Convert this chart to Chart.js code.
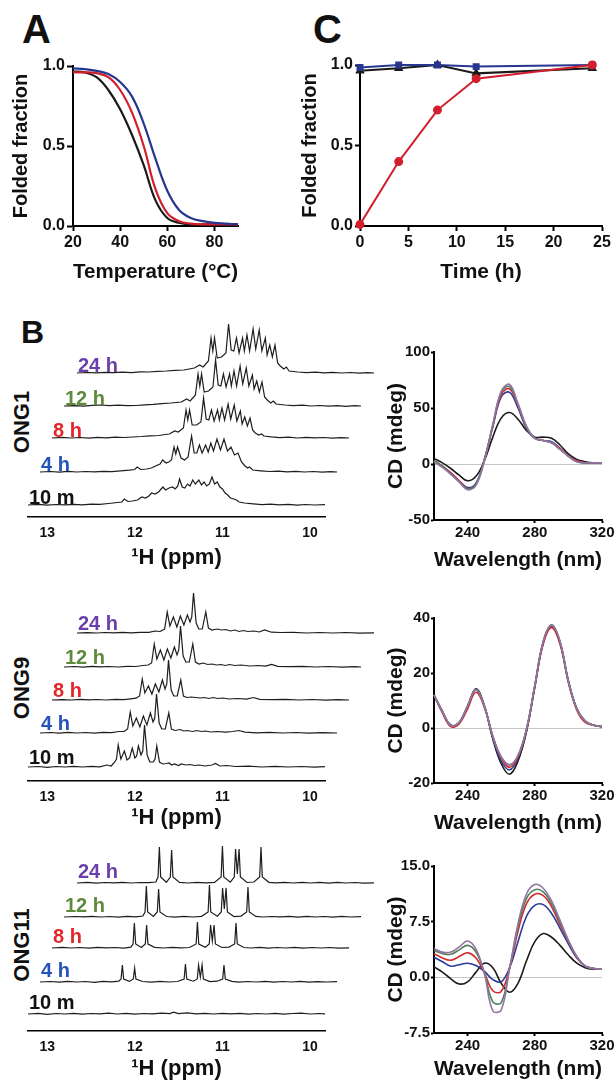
<!DOCTYPE html>
<html>
<head>
<meta charset="utf-8">
<title>Folding of ONG1, ONG9 and ONG11</title>
<script src="https://cdn.jsdelivr.net/npm/chart.js@4.4.1/dist/chart.umd.min.js"></script>
<style>
  body { margin: 0; background: #fff; width: 615px; height: 1082px; position: relative; overflow: hidden;
         font-family: "Liberation Sans", Arial, sans-serif; }
  canvas { position: absolute; }
  .lbl { position: absolute; font-weight: bold; white-space: nowrap; line-height: 1; color: #111; }
  .ong { font-size: 22px; transform: translate(-50%, -50%) rotate(-90deg); }
</style>
</head>
<body>
<div class="lbl" style="left:22px;top:9px;font-size:40px">A</div>
<div class="lbl" style="left:313px;top:9px;font-size:40px">C</div>
<div class="lbl" style="left:21px;top:316px;font-size:32px">B</div>
<div class="lbl ong" style="left:22px;top:422px">ONG1</div>
<div class="lbl ong" style="left:22px;top:688px">ONG9</div>
<div class="lbl ong" style="left:22px;top:945px">ONG11</div>

<canvas id="melt"></canvas>
<canvas id="kinetics"></canvas>
<canvas id="nmr1"></canvas>
<canvas id="nmr9"></canvas>
<canvas id="nmr11"></canvas>
<canvas id="cd1"></canvas>
<canvas id="cd9"></canvas>
<canvas id="cd11"></canvas>

<script>
// ---- Panel A : melting curves ----
const temps = [20, 25, 30, 35, 40, 45, 50, 55, 60, 65, 70, 75, 80, 85, 90];
const meltBlack = [0.965, 0.96, 0.93, 0.85, 0.73, 0.57, 0.38, 0.16, 0.05, 0.02, 0.01, 0.01, 0.01, 0.01, 0.01];
const meltRed = [0.96, 0.96, 0.955, 0.93, 0.85, 0.71, 0.50, 0.23, 0.08, 0.03, 0.015, 0.01, 0.01, 0.01, 0.01];
const meltBlue = [0.985, 0.98, 0.97, 0.95, 0.90, 0.81, 0.64, 0.42, 0.22, 0.10, 0.05, 0.03, 0.02, 0.015, 0.01];
const tempTicks = [20, 40, 60, 80];
const fractionTicks = [0, 0.5, 1];

// ---- Panel C : folding over time ----
const hours = [0, 4, 8, 12, 24];
const foldBlue = [0.985, 1.0, 1.0, 0.99, 1.0];
const foldBlack = [0.965, 0.98, 1.0, 0.948, 0.98];
const foldRed = [0.01, 0.40, 0.72, 0.915, 1.0];
const hourTicks = [0, 5, 10, 15, 20, 25];

// ---- Panel B : CD spectra (mdeg) ----
const wavelengths = [220, 225, 230, 235, 240, 245, 250, 255, 260, 265, 270, 275, 280, 285, 290, 295, 300, 305, 310, 315, 320];
const cd1Black  = [5, 1, -4, -10, -15, -11, 3, 24, 41, 46, 40, 30, 24, 24, 23, 17, 9, 4, 2, 1, 1];
const cd1Blue   = [3, -2, -8, -15, -21, -17, 4, 33, 60, 64, 50, 32, 23, 21, 20, 14, 7, 3, 1, 1, 1];
const cd1Red    = [3, -2, -8, -15, -22, -18, 4, 34, 62, 67, 52, 33, 23, 21, 19, 14, 7, 3, 1, 1, 1];
const cd1Green  = [3, -2, -9, -16, -22, -18, 4, 35, 64, 69, 53, 33, 23, 21, 19, 13, 7, 2, 1, 1, 1];
const cd1Purple = [2, -3, -9, -16, -23, -19, 3, 35, 65, 71, 54, 34, 23, 21, 19, 13, 7, 2, 1, 1, 1];

const cd9Black  = [12, 6, 1, 2, 8, 14.3, 8, -4, -13, -16.8, -12, -1.5, 15, 31, 37, 31, 17, 7, 2.5, 1, 0.5];
const cd9Blue   = [12, 6, 1, 2, 8, 14, 8, -3.5, -12, -15.2, -11, -1, 15, 31, 37, 31, 17, 7, 2.5, 1, 0.5];
const cd9Red    = [12, 5.5, 0.5, 1.5, 7, 13, 7.5, -3, -11, -14.3, -10.5, -1, 15, 30.5, 36.5, 30.5, 16.5, 6.5, 2, 1, 0.5];
const cd9Green  = [12, 6, 1, 2, 8, 14, 8, -3, -10.5, -13.5, -10, -0.5, 15.5, 31.5, 37.5, 31.5, 17, 7, 2.5, 1, 0.5];
const cd9Purple = [12, 6, 1, 2, 8, 14, 8, -3, -10.5, -13.3, -10, -0.5, 15.5, 31.5, 37.3, 31.5, 17, 7, 2.5, 1, 0.5];

const cd11Black  = [1.4, 0.7, -0.2, -0.9, -0.6, 0.7, 1.9, 1.3, -0.8, -2.0, -0.8, 2.2, 4.8, 5.9, 5.4, 4.3, 3.0, 1.9, 1.3, 1.1, 1.1];
const cd11Blue   = [2.7, 2.1, 1.5, 1.7, 1.9, 1.6, 0.8, -0.3, -0.6, 1.3, 4.8, 8.2, 9.7, 9.8, 8.6, 6.6, 4.5, 2.6, 1.5, 1.2, 1.1];
const cd11Red    = [3.2, 2.6, 2.3, 2.8, 3.3, 2.6, 0.6, -1.8, -1.9, 1.3, 6.2, 9.9, 11.2, 11.0, 9.5, 7.1, 4.8, 2.7, 1.5, 1.2, 1.1];
const cd11Green  = [3.6, 3.2, 3.1, 3.7, 4.3, 3.4, 0.6, -3.3, -3.4, 1.2, 6.8, 10.6, 11.8, 11.5, 9.9, 7.4, 4.9, 2.8, 1.5, 1.2, 1.1];
const cd11Purple = [3.9, 3.4, 3.4, 4.1, 4.9, 3.8, 0.5, -4.5, -4.4, 1.2, 7.2, 11.2, 12.5, 12.0, 10.3, 7.7, 5.0, 2.8, 1.5, 1.2, 1.1];

const cdTicksX = [240, 280, 320];
const cd1Ticks = [-50, 0, 50, 100];
const cd9Ticks = [-20, 0, 20, 40];
const cd11Ticks = [-7.5, 0, 7.5, 15];

// ---- Panel B : 1H NMR imino region, [ppm, intensity] ----
const ppmTicks = [13, 12, 11, 10];
const ppmRange = [9.83, 13.22];
const traceNames = ['10 m', '4 h', '8 h', '12 h', '24 h'];

const ong1_10m = [[13.22,0],[13.1,0.6],[13.0,-0.2],[12.9,0.5],[12.8,0.1],[12.7,0.7],[12.6,0.2],[12.5,0.9],[12.4,0.6],[12.3,1.5],[12.2,2.5],[12.15,3],[12.12,6],[12.08,3.5],[12.03,4],[11.97,5],[11.92,8],[11.88,7],[11.84,9],[11.81,12],[11.77,11],[11.73,13],[11.7,16],[11.68,18],[11.65,15],[11.61,17],[11.57,18],[11.54,16],[11.51,19],[11.49,26],[11.46,18],[11.43,17],[11.4,21],[11.37,19],[11.34,25],[11.31,21],[11.27,25],[11.24,20],[11.21,23],[11.18,19],[11.15,21],[11.12,28],[11.09,21],[11.06,23],[11.03,18],[11.0,16],[10.97,12],[10.94,10],[10.91,7],[10.87,6],[10.84,5],[10.81,3],[10.75,2],[10.65,1.2],[10.55,0.4],[10.45,0.9],[10.35,0.1],[10.25,0.6],[10.15,-0.1],[10.05,0.5],[9.95,0],[9.83,0.3]];
const ong1_4h = [[13.22,0],[13.1,0.5],[13.0,-0.2],[12.9,0.6],[12.8,0],[12.7,0.5],[12.6,0.1],[12.5,0.7],[12.4,0.4],[12.3,1.2],[12.2,1.8],[12.14,2.5],[12.11,5],[12.07,2.5],[12.0,3],[11.95,4],[11.9,6],[11.85,8],[11.82,12],[11.78,9],[11.75,10],[11.72,12],[11.69,25],[11.67,18],[11.65,25],[11.61,14],[11.57,12],[11.53,15],[11.49,36],[11.46,19],[11.43,19],[11.4,27],[11.37,19],[11.33,27],[11.3,20],[11.27,29],[11.24,21],[11.2,33],[11.16,22],[11.12,33],[11.08,21],[11.04,25],[11.0,17],[10.96,19],[10.92,10],[10.88,6],[10.85,4],[10.83,5],[10.79,2],[10.7,1.2],[10.6,0.5],[10.5,0.9],[10.4,0.1],[10.3,0.6],[10.2,0],[10.1,0.5],[10.0,-0.2],[9.9,0.4],[9.83,0]];
const ong1_8h = [[13.22,0],[13.1,0.6],[13.0,0],[12.9,0.5],[12.8,-0.1],[12.7,0.6],[12.6,0.2],[12.5,0.8],[12.4,0.5],[12.3,1],[12.2,1.5],[12.1,2.2],[12.0,2.5],[11.93,3.5],[11.88,4],[11.82,7],[11.78,6],[11.72,10],[11.69,28],[11.67,18],[11.65,28],[11.62,13],[11.57,13],[11.52,16],[11.49,40],[11.46,19],[11.43,18],[11.4,28],[11.37,17],[11.33,28],[11.31,18],[11.28,30],[11.25,18],[11.21,34],[11.18,19],[11.14,33],[11.11,17],[11.07,27],[11.05,14],[11.02,21],[10.99,12],[10.96,20],[10.93,8],[10.9,5],[10.86,3],[10.83,4],[10.8,2],[10.72,1.2],[10.62,0.4],[10.52,0.8],[10.42,0],[10.32,0.6],[10.22,0.1],[10.12,0.5],[10.02,-0.1],[9.92,0.4],[9.83,0]];
const ong1_12h = [[13.22,0],[13.1,0.4],[13.0,-0.1],[12.9,0.6],[12.8,1],[12.7,0.4],[12.6,0.8],[12.5,0.3],[12.4,0.5],[12.3,1.2],[12.2,1.6],[12.1,2.4],[12.0,3],[11.88,4],[11.82,7],[11.78,5],[11.72,11],[11.69,32],[11.67,20],[11.65,32],[11.62,14],[11.57,15],[11.52,19],[11.49,46],[11.46,21],[11.43,20],[11.4,32],[11.37,19],[11.33,32],[11.31,20],[11.28,35],[11.25,20],[11.21,40],[11.18,22],[11.14,38],[11.11,20],[11.07,31],[11.05,17],[11.02,25],[10.99,14],[10.96,24],[10.93,9],[10.9,6],[10.86,3],[10.83,5],[10.8,2],[10.7,1],[10.6,0.3],[10.5,0.8],[10.4,0],[10.3,0.5],[10.2,-0.2],[10.1,0.4],[10.0,-0.3],[9.9,0.3],[9.83,0]];
const ong1_24h = [[13.22,0],[13.1,0.5],[13.0,0.1],[12.9,0.7],[12.8,0.3],[12.7,0.9],[12.6,0.4],[12.5,1.2],[12.4,1],[12.3,1.6],[12.2,2],[12.1,2.6],[12.0,3],[11.88,5],[11.82,8],[11.78,6],[11.72,12],[11.69,35],[11.67,22],[11.65,35],[11.62,15],[11.57,16],[11.52,20],[11.49,49],[11.46,23],[11.43,22],[11.4,35],[11.37,20],[11.33,35],[11.31,22],[11.28,38],[11.25,22],[11.21,44],[11.18,24],[11.14,43],[11.11,22],[11.07,35],[11.05,18],[11.02,28],[10.99,16],[10.96,28],[10.93,10],[10.9,7],[10.86,4],[10.83,6],[10.8,2],[10.7,1],[10.6,0.4],[10.5,0.8],[10.4,0.1],[10.3,0.6],[10.2,0],[10.1,0.5],[10.0,-0.2],[9.9,0.4],[9.83,0]];

const ong9_10m = [[13.22,0],[13.1,0.5],[13.0,-0.3],[12.9,0.5],[12.8,0],[12.7,0.6],[12.6,0],[12.5,0.6],[12.4,0.2],[12.32,2],[12.27,1],[12.23,5],[12.21,8],[12.19,22],[12.16,8],[12.12,16],[12.09,7],[12.06,9],[12.03,19],[12.0,9],[11.98,11],[11.96,21],[11.93,12],[11.91,16],[11.89,42],[11.86,12],[11.83,5],[11.79,5],[11.77,8],[11.75,21],[11.72,5],[11.68,3],[11.64,3.5],[11.61,4],[11.58,2],[11.55,3],[11.5,1.5],[11.47,3],[11.42,2],[11.37,2.5],[11.32,1.5],[11.27,2],[11.2,1],[11.12,2],[11.08,3.5],[11.03,1],[10.95,1.5],[10.85,0.5],[10.7,0.8],[10.55,0],[10.4,0.6],[10.25,0],[10.1,0.5],[9.95,-0.2],[9.83,0.3]];
const ong9_4h = [[13.22,0],[13.1,0.5],[13.0,-0.2],[12.9,0.6],[12.8,0],[12.7,0.5],[12.6,-0.1],[12.5,0.6],[12.4,0.3],[12.32,1.5],[12.26,1.5],[12.22,4],[12.19,21],[12.16,7],[12.12,15],[12.08,6],[12.04,17],[12.0,8],[11.96,20],[11.93,11],[11.91,15],[11.89,39],[11.86,10],[11.83,4],[11.79,4],[11.75,20],[11.72,4],[11.68,2.5],[11.62,3.5],[11.58,2],[11.54,2.5],[11.48,1.5],[11.43,2.5],[11.38,1.5],[11.33,2],[11.27,1],[11.2,1.5],[11.1,0.8],[11.02,1.5],[10.95,2.5],[10.88,0.8],[10.75,0.2],[10.6,0.6],[10.45,0],[10.3,0.5],[10.15,-0.2],[10.0,0.4],[9.83,0]];
const ong9_8h = [[13.22,0],[13.1,0.4],[13.0,0],[12.9,0.6],[12.8,0.1],[12.7,0.5],[12.6,0],[12.5,0.7],[12.4,0.4],[12.32,1.2],[12.26,1.8],[12.22,4],[12.19,21],[12.16,7],[12.12,14],[12.08,6],[12.04,16],[12.0,8],[11.96,20],[11.93,11],[11.91,16],[11.89,40],[11.86,10],[11.83,4],[11.79,4],[11.75,20],[11.72,4],[11.68,2.5],[11.63,3],[11.58,2.5],[11.53,2],[11.48,2.5],[11.43,1.5],[11.38,2.5],[11.33,1.5],[11.27,2],[11.2,1],[11.1,1.5],[11.0,0.8],[10.92,2.5],[10.85,0.6],[10.7,0.3],[10.55,0.7],[10.4,0],[10.25,0.5],[10.1,-0.1],[9.95,0.4],[9.83,0]];
const ong9_12h = [[13.22,0],[13.1,0.5],[13.0,-0.1],[12.9,0.6],[12.8,0.2],[12.7,0.5],[12.6,0],[12.5,0.6],[12.4,0.5],[12.32,1.5],[12.26,2],[12.22,4],[12.19,23],[12.16,8],[12.12,17],[12.08,7],[12.04,18],[12.0,9],[11.96,20],[11.93,12],[11.91,17],[11.89,41],[11.86,11],[11.83,5],[11.79,5],[11.75,23],[11.72,5],[11.68,3],[11.63,4],[11.58,2.5],[11.53,3],[11.48,2],[11.43,2.5],[11.38,1.5],[11.33,2.5],[11.27,1.5],[11.2,2],[11.1,1],[11.0,1.5],[10.92,0.8],[10.85,2.5],[10.78,0.6],[10.65,0.3],[10.5,0.7],[10.35,0],[10.2,0.5],[10.05,-0.1],[9.9,0.4],[9.83,0]];
const ong9_24h = [[13.22,0],[13.1,0.4],[13.0,0],[12.9,0.5],[12.8,0.2],[12.7,0.6],[12.6,0.1],[12.5,0.7],[12.4,0.6],[12.33,2],[12.27,1.5],[12.22,4],[12.19,21],[12.16,7],[12.12,16],[12.08,6],[12.04,17],[12.0,8],[11.96,18],[11.93,11],[11.91,16],[11.89,40],[11.86,10],[11.83,4],[11.79,4],[11.75,21],[11.72,5],[11.68,3],[11.62,4],[11.57,3],[11.52,3.5],[11.47,2],[11.42,3],[11.37,1.5],[11.32,2.5],[11.27,1.5],[11.2,2],[11.14,1],[11.08,3],[11.0,0.8],[10.9,0.5],[10.75,0.7],[10.6,0],[10.45,0.5],[10.3,0],[10.15,0.5],[10.0,-0.2],[9.83,0.2]];

const ong11_10m = [[13.22,0],[13.1,0.6],[13.0,-0.3],[12.9,0.5],[12.8,0],[12.7,0.7],[12.6,-0.2],[12.5,0.5],[12.4,0.1],[12.3,0.8],[12.2,0],[12.1,0.6],[12.0,-0.2],[11.9,0.5],[11.8,0.2],[11.7,0.8],[11.6,0.4],[11.56,1.8],[11.5,0.3],[11.4,1.2],[11.3,0.2],[11.2,0.7],[11.1,0],[11.0,0.6],[10.9,0.1],[10.8,0.7],[10.7,-0.2],[10.6,0.5],[10.5,0],[10.4,0.6],[10.3,-0.1],[10.2,0.5],[10.1,0.9],[10.0,0],[9.9,0.5],[9.83,0.1]];
const ong11_4h = [[13.22,0],[13.1,0.5],[13.0,-0.2],[12.9,0.6],[12.8,0],[12.7,0.5],[12.6,-0.3],[12.5,0.6],[12.4,0.2],[12.32,0.8],[12.295,3],[12.28,17],[12.265,3],[12.2,0.6],[12.155,3],[12.14,14],[12.125,3],[12.05,0.5],[11.95,-0.2],[11.85,0.6],[11.75,0],[11.65,0.5],[11.575,3],[11.56,18],[11.545,3],[11.47,0.8],[11.425,3],[11.41,17],[11.39,5],[11.37,17],[11.355,3],[11.28,0.4],[11.2,0.8],[11.135,3],[11.12,17],[11.105,3],[11.03,0.6],[10.95,-0.2],[10.85,0.5],[10.75,0],[10.65,0.6],[10.55,-0.1],[10.45,0.5],[10.35,0],[10.25,0.6],[10.15,-0.2],[10.05,0.4],[9.95,0],[9.83,0.3]];
const ong11_8h = [[13.22,0],[13.1,0.6],[13.0,0],[12.9,0.5],[12.8,-0.2],[12.7,0.6],[12.6,0.1],[12.5,0.5],[12.4,-0.1],[12.32,0.9],[12.295,4],[12.28,25],[12.265,4],[12.2,0.5],[12.155,4],[12.14,23],[12.125,4],[12.05,0.6],[11.95,0],[11.85,0.7],[11.75,0.1],[11.65,0.5],[11.575,4],[11.56,26],[11.545,4],[11.47,0.7],[11.425,4],[11.41,23],[11.39,7],[11.37,23],[11.355,4],[11.28,0.5],[11.2,0.9],[11.135,4],[11.12,25],[11.105,4],[11.03,0.5],[10.95,0],[10.85,0.6],[10.75,-0.1],[10.65,0.5],[10.55,0],[10.45,0.7],[10.35,-0.1],[10.25,0.5],[10.15,0],[10.05,0.5],[9.95,-0.2],[9.83,0.2]];
const ong11_12h = [[13.22,0],[13.1,0.5],[13.0,0.1],[12.9,0.7],[12.8,0],[12.7,0.5],[12.6,-0.1],[12.5,0.6],[12.4,0.2],[12.32,1],[12.295,5],[12.28,31],[12.265,5],[12.2,0.6],[12.155,5],[12.14,28],[12.125,5],[12.05,0.5],[11.95,-0.1],[11.85,0.6],[11.75,0],[11.65,0.7],[11.575,5],[11.56,32],[11.545,5],[11.47,0.8],[11.425,5],[11.41,29],[11.39,8],[11.37,29],[11.355,5],[11.28,0.4],[11.2,0.9],[11.135,5],[11.12,30],[11.105,5],[11.03,0.6],[10.95,0],[10.85,0.5],[10.75,0.1],[10.65,0.6],[10.55,-0.1],[10.45,0.6],[10.35,0],[10.25,0.5],[10.15,-0.1],[10.05,0.6],[9.95,0],[9.83,0.3]];
const ong11_24h = [[13.22,0],[13.1,0.6],[13.0,-0.1],[12.9,0.5],[12.8,0.1],[12.7,0.7],[12.6,0],[12.5,0.5],[12.4,0.3],[12.32,1],[12.295,6],[12.28,36],[12.265,6],[12.2,0.7],[12.155,6],[12.14,33],[12.125,6],[12.05,0.6],[11.95,0],[11.85,0.7],[11.75,0.1],[11.65,0.6],[11.575,6],[11.56,37],[11.545,6],[11.47,0.8],[11.425,6],[11.41,34],[11.39,9],[11.37,34],[11.355,6],[11.28,0.5],[11.2,1],[11.135,6],[11.12,36],[11.105,6],[11.03,0.7],[10.95,0.1],[10.85,0.6],[10.75,0],[10.65,0.6],[10.55,0],[10.45,0.7],[10.35,-0.1],[10.25,0.6],[10.15,0],[10.05,0.5],[9.95,-0.1],[9.83,0.2]];

// colours
const black = '#1a1a1a', red = '#d21f2e', blue = '#27368f';
const cdColors = { black: '#1b1b1b', blue: '#2a3a9a', red: '#d42a30', green: '#4f7f55', purple: '#9474a4' };
const traceColors = ['#111111', '#2454b8', '#e3262b', '#5f8a3c', '#6a3fa8'];

// stacking of the NMR traces: horizontal shift per trace (px)
const traceShift = [0, 12, 24, 36, 49];

Chart.defaults.font.family = '"Liberation Sans", Arial, sans-serif';
Chart.defaults.font.weight = 'bold';
Chart.defaults.color = '#111';
Chart.defaults.animation = false;
Chart.defaults.responsive = false;
Chart.defaults.plugins.legend.display = false;
Chart.defaults.plugins.tooltip.enabled = false;
Chart.defaults.elements.point.radius = 0;

function pts(xs, ys) { return xs.map((x, i) => ({ x: x, y: ys[i] })); }
function pairs(list) { return list.map(p => ({ x: p[0], y: p[1] })); }
function only(values) { return s => { s.ticks = values.map(v => ({ value: v })); }; }
function fixW(w) { return s => { s.width = w; s.paddingTop = 0; s.paddingBottom = 0; }; }
function fixH(h) { return s => { s.height = h; s.paddingLeft = 0; s.paddingRight = 0; }; }

// canvas box [x, y, w, h] and plot area [left, top, right, bottom], page pixels
function place(id, rect) {
  const c = document.getElementById(id);
  c.width = rect[2];
  c.height = rect[3];
  c.style.left = rect[0] + 'px';
  c.style.top = rect[1] + 'px';
  return c;
}

function frameScales(rect, area, o) {
  const xLh = o.xTitleSize * 1.2, yLh = o.yTitleSize * 1.2;
  return {
    x: {
      type: 'linear', min: o.x[0], max: o.x[1],
      afterBuildTicks: only(o.xTicks),
      afterFit: fixH(rect[1] + rect[3] - area[3]),
      border: { color: '#000', width: 2 },
      grid: { drawOnChartArea: false, tickLength: o.xTick, tickWidth: 2, tickColor: '#000' },
      ticks: { font: { size: o.tickSize }, padding: o.xPad, maxRotation: 0, autoSkip: false },
      title: { display: true, text: o.xTitle, font: { size: o.xTitleSize },
               padding: { top: 0, bottom: Math.max(0, rect[1] + rect[3] - xLh / 2 - o.xTitleY) } }
    },
    y: {
      type: 'linear', min: o.y[0], max: o.y[1],
      afterBuildTicks: only(o.yTicks),
      afterFit: fixW(area[0] - rect[0]),
      border: { color: '#000', width: 2 },
      grid: {
        drawOnChartArea: !!o.zeroLine,
        color: c => (o.zeroLine && c.tick && c.tick.value === 0) ? '#c4c4c4' : 'rgba(0,0,0,0)',
        lineWidth: 1, tickLength: o.yTick, tickWidth: 2, tickColor: '#000'
      },
      ticks: { font: { size: o.tickSize }, padding: o.yPad, callback: o.yFmt },
      title: { display: true, text: o.yTitle, font: { size: o.yTitleSize },
               padding: { top: Math.max(0, o.yTitleX - rect[0] - yLh / 2), bottom: 0 } }
    }
  };
}

function areaPadding(rect, area, leftAxis) {
  return {
    left: leftAxis ? 0 : area[0] - rect[0],
    top: area[1] - rect[1],
    right: rect[0] + rect[2] - area[2],
    bottom: 0
  };
}

function curve(data, color, width) {
  return { data: data, borderColor: color, borderWidth: width, tension: 0.4, pointRadius: 0, clip: false };
}

// ---- Panel A ----
(function () {
  const rect = [0, 0, 300, 300], area = [73, 66, 238, 226];
  new Chart(place('melt', rect), {
    type: 'line',
    data: { datasets: [
      curve(pts(temps, meltBlue), blue, 2.2),
      curve(pts(temps, meltRed), red, 2.2),
      curve(pts(temps, meltBlack), black, 2.2)
    ] },
    options: {
      layout: { padding: areaPadding(rect, area, true) },
      scales: frameScales(rect, area, {
        x: [20, 90], xTicks: tempTicks, xTick: 5, xPad: 2, xTitle: 'Temperature (°C)', xTitleSize: 21, xTitleY: 272,
        y: [0, 1], yTicks: fractionTicks, yTick: 6, yPad: 2, yTitle: 'Folded fraction', yTitleSize: 20, yTitleX: 21,
        tickSize: 16, yFmt: v => v.toFixed(1)
      })
    }
  });
})();

// ---- Panel C ----
(function () {
  const rect = [296, 0, 319, 300], area = [360, 65, 602, 226];
  const marked = (ys, color, style) => ({
    data: pts(hours, ys), borderColor: color, backgroundColor: color, borderWidth: 2,
    tension: 0, pointRadius: 3.5, pointStyle: style, clip: false
  });
  new Chart(place('kinetics', rect), {
    type: 'line',
    data: { datasets: [
      marked(foldRed, red, 'circle'),
      marked(foldBlue, blue, 'rect'),
      marked(foldBlack, black, 'triangle')
    ] },
    options: {
      layout: { padding: areaPadding(rect, area, true) },
      scales: frameScales(rect, area, {
        x: [0, 25], xTicks: hourTicks, xTick: 5, xPad: 2, xTitle: 'Time (h)', xTitleSize: 21, xTitleY: 272,
        y: [0, 1], yTicks: fractionTicks, yTick: 5, yPad: 2, yTitle: 'Folded fraction', yTitleSize: 20, yTitleX: 310,
        tickSize: 16, yFmt: v => v.toFixed(1)
      })
    }
  });
})();

// ---- CD spectra ----
function cdChart(id, rect, area, series, yRange, yTicks, fmt) {
  const names = ['purple', 'green', 'red', 'blue', 'black'];
  new Chart(place(id, rect), {
    type: 'line',
    data: { datasets: names.map(n => curve(pts(wavelengths, series[n]), cdColors[n], 1.6)) },
    options: {
      layout: { padding: areaPadding(rect, area, true) },
      scales: frameScales(rect, area, {
        x: [220, 320], xTicks: cdTicksX, xTick: 3, xPad: 1, xTitle: 'Wavelength (nm)', xTitleSize: 21,
        xTitleY: rect[1] + rect[3] - (rect[1] + rect[3] - area[3]) + (area[3] > 1000 ? 37 : 40),
        y: yRange, yTicks: yTicks, yTick: 3, yPad: 1, yTitle: 'CD (mdeg)', yTitleSize: 21, yTitleX: 396,
        tickSize: 15, yFmt: fmt, zeroLine: true
      })
    }
  });
}

cdChart('cd1', [368, 335, 247, 245], [434, 352, 602, 520],
  { black: cd1Black, blue: cd1Blue, red: cd1Red, green: cd1Green, purple: cd1Purple },
  [-50, 100], cd1Ticks, v => String(v));
cdChart('cd9', [368, 600, 247, 240], [434, 618, 602, 783],
  { black: cd9Black, blue: cd9Blue, red: cd9Red, green: cd9Green, purple: cd9Purple },
  [-20, 40], cd9Ticks, v => String(v));
cdChart('cd11', [368, 845, 247, 237], [434, 866, 602, 1033],
  { black: cd11Black, blue: cd11Blue, red: cd11Red, green: cd11Green, purple: cd11Purple },
  [-7.5, 15], cd11Ticks, v => v.toFixed(1));

// ---- NMR stacks ----
function nmrChart(id, rect, axisY, titleY, baselines, traces, lift) {
  const area = [28, axisY - 190, 325, axisY];
  const ppmPerPx = (ppmRange[1] - ppmRange[0]) / (area[2] - area[0]);
  const scales = {};
  const datasets = [];
  traces.forEach((t, k) => {
    const dx = traceShift[k] * ppmPerPx;
    scales['x' + k] = { type: 'linear', axis: 'x', position: 'bottom', reverse: true,
                        min: ppmRange[0] + dx, max: ppmRange[1] + dx, display: false };
    scales['y' + k] = { type: 'linear', axis: 'y', position: 'left', display: false,
                        min: baselines[k] - axisY, max: baselines[k] - area[1] };
    datasets.push({ data: pairs(t), xAxisID: 'x' + k, yAxisID: 'y' + k, borderColor: '#1e1e1e',
                    borderWidth: 1.2, tension: 0, pointRadius: 0, clip: false });

    const lbl = document.createElement('div');
    lbl.className = 'lbl';
    lbl.textContent = traceNames[k];
    lbl.style.fontSize = '20px';
    lbl.style.color = traceColors[k];
    lbl.style.left = (area[0] + traceShift[k] + 1) + 'px';
    lbl.style.top = (baselines[k] - lift - 17) + 'px';
    document.body.appendChild(lbl);
  });
  Object.assign(scales.x0, {
    display: true,
    afterBuildTicks: only(ppmTicks),
    afterFit: fixH(rect[1] + rect[3] - axisY),
    border: { color: '#000', width: 1.6 },
    grid: { drawOnChartArea: false, drawTicks: false },
    ticks: { font: { size: 14 }, padding: 8, callback: v => String(v), autoSkip: false, maxRotation: 0 },
    title: { display: true, text: '¹H (ppm)', font: { size: 22 },
             padding: { top: 0, bottom: Math.max(0, rect[1] + rect[3] - 13.2 - titleY) } }
  });
  new Chart(place(id, rect), {
    type: 'line',
    data: { datasets: datasets },
    options: { layout: { padding: areaPadding(rect, area, false) }, scales: scales }
  });
}

nmrChart('nmr1', [0, 320, 400, 260], 517, 558, [505, 472, 438, 406, 373],
  [ong1_10m, ong1_4h, ong1_8h, ong1_12h, ong1_24h], 1.5);
nmrChart('nmr9', [0, 580, 400, 260], 781, 818, [767, 733, 700, 667, 633],
  [ong9_10m, ong9_4h, ong9_8h, ong9_12h, ong9_24h], 3);
nmrChart('nmr11', [0, 830, 400, 252], 1031, 1070, [1014, 982, 948, 917, 883],
  [ong11_10m, ong11_4h, ong11_8h, ong11_12h, ong11_24h], 5);
</script>
</body>
</html>
